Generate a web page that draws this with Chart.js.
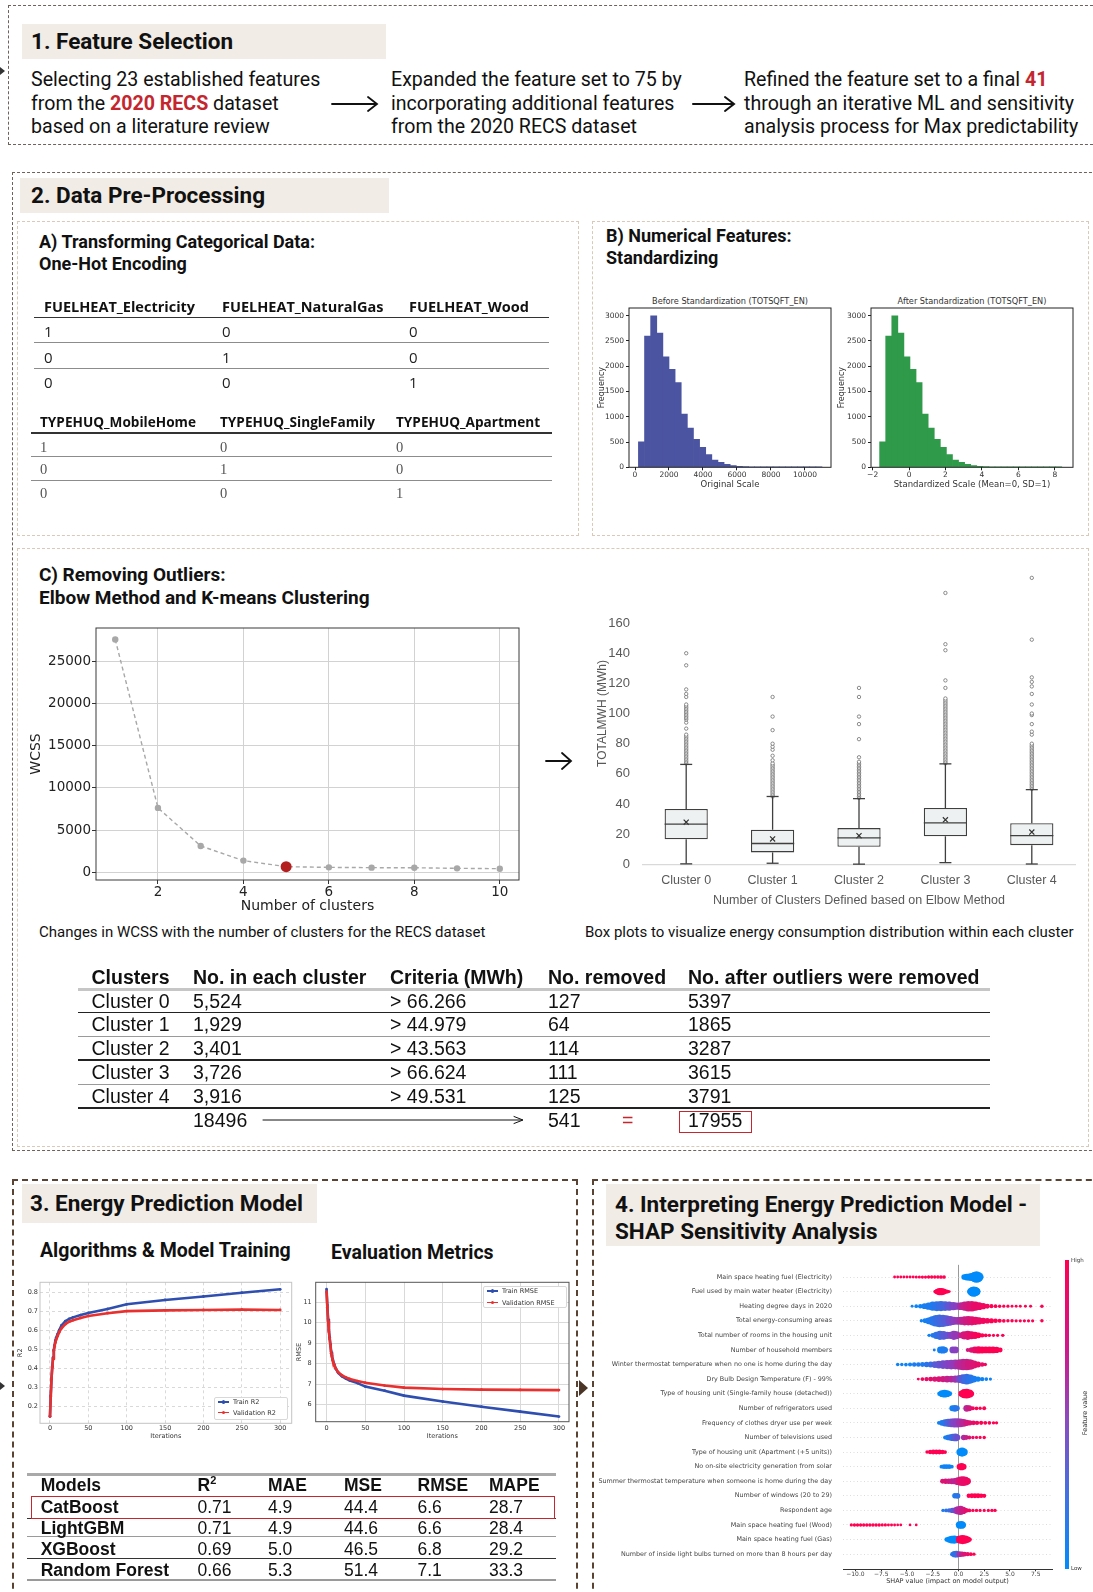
<!DOCTYPE html>
<html>
<head>
<meta charset="utf-8">
<title>RECS energy prediction workflow</title>
<script src="https://cdn.jsdelivr.net/npm/chart.js@4.4.1/dist/chart.umd.min.js"></script>
<style>
  html, body { margin: 0; padding: 0; background: #fff; }
  #page { position: relative; width: 1093px; height: 1592px; overflow: hidden; font-family: Roboto, "Noto Sans", sans-serif; color: #111; }
  #page div, #page canvas, #page svg { position: absolute; }
  .box { box-sizing: border-box; }
  .sec { border: 1.4px dashed #6f625a; }
  .sub { border: 1px dashed #d9c9b6; }
  .heavy { border: 2px dashed #5a4333; }
  .tag { background: #f1ece6; }
  .h1 { font-weight: 700; font-size: 22.5px; white-space: nowrap; }
  .h2 { font-weight: 700; font-size: 18px; white-space: nowrap; }
  .h3 { font-weight: 700; font-size: 19.5px; white-space: nowrap; }
  .body { font-size: 19.6px; line-height: 23.5px; white-space: nowrap; }
  .red { color: #c4262e; font-weight: 700; }
  .cap { font-size: 15px; white-space: nowrap; }
  .oh { font-family: "Open Sans", sans-serif; white-space: nowrap; }
  .oh-h { font-weight: 700; font-size: 14.5px; color: #111; }
  .oh-h2 { font-weight: 700; font-size: 13.6px; color: #111; }
  .oh-d { font-size: 15px; color: #222; }
  .oh-d2 { font-family: "Liberation Serif", serif; font-size: 14.5px; color: #555; }
  .tbl { font-family: "Liberation Sans", Arial, sans-serif; white-space: nowrap; }
  .ot { font-size: 19.5px; color: #111; }
  .ot-h { font-weight: 700; }
  .mt { font-size: 17.5px; color: #111; }
  .mt-b { font-weight: 700; }
  .mpl { font-family: "DejaVu Sans", sans-serif; white-space: nowrap; color: #333; }
  .lg { font-family: "DejaVu Sans", sans-serif; font-size: 6.5px; color: #333; white-space: nowrap; }
</style>
</head>
<body>
<div id="page">
  <!-- 1. Feature selection -->
  <div class="box sec" style="left:8px;top:5px;width:1100px;height:140px"></div>
  <div class="tag" style="left:22px;top:24px;width:364px;height:35px"></div>
  <div class="h1" style="left:31px;top:24px;line-height:35px">1. Feature Selection</div>
  <div class="body" style="left:31px;top:68px">Selecting 23 established features<br>from the <span class="red">2020 RECS</span> dataset<br>based on a literature review</div>
  <div class="body" style="left:391px;top:68px">Expanded the feature set to 75 by<br>incorporating additional features<br>from the 2020 RECS dataset</div>
  <div class="body" style="left:744px;top:68px">Refined the feature set to a final <span class="red">41</span><br>through an iterative ML and sensitivity<br>analysis process for Max predictability</div>

  <!-- 2. Data pre-processing -->
  <div class="box sec" style="left:12px;top:172px;width:1100px;height:979px"></div>
  <div class="tag" style="left:20px;top:178px;width:369px;height:35px"></div>
  <div class="h1" style="left:31px;top:178px;line-height:35px">2. Data Pre-Processing</div>
  <div class="box sub" style="left:17px;top:221px;width:562px;height:315px"></div>
  <div class="box sub" style="left:592px;top:221px;width:497px;height:315px"></div>
  <div class="box sub" style="left:17px;top:548px;width:1072px;height:599px"></div>
  <div class="h2" style="left:39px;top:231px;line-height:21.5px">A) Transforming Categorical Data:<br>One-Hot Encoding</div>
  <div class="h2" style="left:606px;top:225px;line-height:21.5px">B) Numerical Features:<br>Standardizing</div>
  <div class="h2" style="left:39px;top:563px;line-height:23.4px;font-size:19px">C) Removing Outliers:<br>Elbow Method and K-means Clustering</div>
  <div class="mpl" style="left:730px;top:296px;font-size:8.2px;line-height:10px;transform:translateX(-50%)">Before Standardization (TOTSQFT_EN)</div>
  <div class="mpl" style="left:972px;top:296px;font-size:8.2px;line-height:10px;transform:translateX(-50%)">After Standardization (TOTSQFT_EN)</div>
  <canvas id="histBefore" width="250" height="210" style="left:590px;top:288px"></canvas>
  <canvas id="histAfter" width="250" height="210" style="left:832px;top:288px"></canvas>
  <canvas id="elbow" width="505" height="305" style="left:25px;top:612px"></canvas>
  <canvas id="boxes" width="500" height="360" style="left:585px;top:550px"></canvas>
  <div class="cap" style="left:39px;top:923px;line-height:18px">Changes in WCSS with the number of clusters for the RECS dataset</div>
  <div class="cap" style="left:585px;top:923px;line-height:18px">Box plots to visualize energy consumption distribution within each cluster</div>

  <!-- 3. Energy prediction model -->
  <div class="box heavy" style="left:12px;top:1179px;width:566px;height:430px"></div>
  <div class="tag" style="left:22px;top:1184px;width:295px;height:39px"></div>
  <div class="h1" style="left:30px;top:1184px;line-height:39px">3. Energy Prediction Model</div>
  <div class="h3" style="left:40px;top:1240px;line-height:22px">Algorithms &amp; Model Training</div>
  <div class="h3" style="left:331px;top:1242px;line-height:22px">Evaluation Metrics</div>
  <canvas id="r2Chart" width="290" height="175" style="left:10px;top:1270px"></canvas>
  <canvas id="rmseChart" width="290" height="175" style="left:290px;top:1270px"></canvas>

  <!-- 4. SHAP -->
  <div class="box heavy" style="left:592px;top:1179px;width:520px;height:430px"></div>
  <div class="tag" style="left:606px;top:1184px;width:434px;height:62px"></div>
  <div class="h1" style="left:615px;top:1191px;line-height:27px">4. Interpreting Energy Prediction Model -<br>SHAP Sensitivity Analysis</div>
  <canvas id="shap" width="498" height="342" style="left:595px;top:1250px"></canvas>
  <div style="left:1065px;top:1260px;width:4px;height:309px;background:linear-gradient(to bottom,#ff0052,#d0168a 28%,#8a4cc0 52%,#3a74e6 78%,#008bfb)"></div>
  <div class="mpl" style="left:1071px;top:1257px;font-size:5.5px;line-height:7px">High</div>
  <div class="mpl" style="left:1071px;top:1565px;font-size:5.5px;line-height:7px">Low</div>
  <div class="mpl" style="left:1085px;top:1413px;font-size:6.5px;line-height:8px;transform:translate(-50%,-50%) rotate(-90deg)">Feature value</div>

  <svg id="ink" width="1093" height="1592" style="left:0;top:0" fill="none" stroke="#111" stroke-linecap="round">
    <path d="M332 104 H376 M368 97 L377 104 L368 111" stroke-width="1.8"/>
    <path d="M693 104 H733 M725 97 L734 104 L725 111" stroke-width="2"/>
    <path d="M546 761 H570 M562 753 L571 761 L562 769" stroke-width="1.8"/>
    <path d="M263 1120 H522 M514 1116.5 L523 1120 L514 1123.5" stroke-width="1"/>
    <path d="M0 67 L5 71 L0 75 Z" fill="#333" stroke="none"/>
    <path d="M0 1382 L5 1386 L0 1390 Z" fill="#333" stroke="none"/>
    <path d="M579 1380 L588 1388 L579 1396 Z" fill="#4a3426" stroke="none"/>
  </svg>
</div>

<script>
// ---------- data ----------
// one-hot encoding examples
const fuelCols = ['FUELHEAT_Electricity', 'FUELHEAT_NaturalGas', 'FUELHEAT_Wood'];
const houseCols = ['TYPEHUQ_MobileHome', 'TYPEHUQ_SingleFamily', 'TYPEHUQ_Apartment'];
const oneHotRows = [[1, 0, 0], [0, 1, 0], [0, 0, 1]];

// TOTSQFT_EN histogram (bin centers, counts)
const sqftBins = [380, 740, 1100, 1460, 1820, 2180, 2540, 2900, 3260, 3620, 3980, 4340, 4700, 5060, 5420,
  5780, 6140, 6500, 6860, 7220, 7580, 7940, 8300, 8660, 9020, 9380, 9740, 10100, 10460, 10820];
const sqftCounts = [505, 2594, 2994, 2653, 2186, 1937, 1674, 1050, 775, 551, 394, 250, 144, 98, 59,
  33, 20, 13, 8, 6, 5, 4, 3, 3, 2, 2, 1, 8, 3, 6];
const zBins = [-1.45, -1.117, -0.783, -0.45, -0.117, 0.217, 0.55, 0.883, 1.217, 1.55, 1.883, 2.217, 2.55, 2.883, 3.217,
  3.55, 3.883, 4.217, 4.55, 4.883, 5.217, 5.55, 5.883, 6.217, 6.55, 6.883, 7.217, 7.55, 7.883, 8.217];
const zCounts = sqftCounts; // standardizing does not change the counts
const freqTicks = [0, 500, 1000, 1500, 2000, 2500, 3000];
const sqftTicks = [0, 2000, 4000, 6000, 8000, 10000];
const zTicks = [-2, 0, 2, 4, 6, 8];

// elbow method
const kValues = [1, 2, 3, 4, 5, 6, 7, 8, 9, 10];
const wcss = [27600, 7640, 3130, 1390, 670, 590, 555, 545, 475, 435];
const elbowK = 5;
const kTicks = [2, 4, 6, 8, 10];
const wcssTicks = [0, 5000, 10000, 15000, 20000, 25000];

// box plots of TOTALMWH per cluster
const clusterNames = ['Cluster 0', 'Cluster 1', 'Cluster 2', 'Cluster 3', 'Cluster 4'];
const boxMin = [0.3, 0.7, 0.1, 1.1, 0.2];
const boxQ1 = [16.6, 7.9, 11.6, 18.6, 12.7];
const boxMedian = [26.6, 13.8, 17.5, 27.5, 19.0];
const boxQ3 = [36.7, 22.9, 24.0, 37.3, 27.3];
const boxMean = [27.9, 16.8, 19.0, 29.5, 21.4];
const criteriaMWh = [66.266, 44.979, 43.563, 66.624, 49.531];
const mwhTicks = [0, 20, 40, 60, 80, 100, 120, 140, 160];
const outliers = [
  [67, 68, 69, 70, 71, 72, 73, 74, 75, 76, 77, 78, 79, 80, 81, 82, 83, 84, 85, 86, 90, 94, 96, 97, 98, 99, 100,
    101, 102, 103, 104, 105, 106, 111, 113, 116, 132, 140],
  [45, 46, 47, 48, 49, 50, 51, 52, 53, 54, 55, 56, 57, 58, 59, 60, 61, 62, 63, 64, 65, 66, 67, 69, 72, 76, 78, 80,
    89, 98, 111],
  [44, 45, 46, 47, 48, 49, 50, 51, 52, 53, 54, 55, 56, 57, 58, 59, 60, 61, 62, 63, 64, 65, 66, 67, 68, 71, 83, 93,
    98, 111, 117],
  [67, 68, 69, 70, 71, 72, 73, 74, 75, 76, 77, 78, 79, 80, 81, 82, 83, 84, 85, 86, 87, 88, 89, 90, 91, 92, 93, 94,
    95, 96, 97, 98, 99, 100, 101, 102, 103, 104, 105, 106, 107, 108, 109, 110, 117, 122, 142, 146, 180],
  [50, 51, 52, 53, 54, 55, 56, 57, 58, 59, 60, 61, 62, 63, 64, 65, 66, 67, 68, 69, 70, 71, 72, 73, 74, 75, 76, 77,
    78, 79, 80, 86, 88, 93, 99, 100, 106, 113, 118, 121, 124, 149, 190]
];

// outlier removal table
const clusterSizes = [5524, 1929, 3401, 3726, 3916];
const removedCounts = [127, 64, 114, 111, 125];
const keptCounts = [5397, 1865, 3287, 3615, 3791];

// CatBoost training curves
const iters = [0, 1, 2, 3, 4, 5, 6, 7, 8, 10, 12, 15, 20, 25, 30, 40, 50, 75, 100, 150, 200, 250, 300];
const trainR2 = [0.145, 0.255, 0.345, 0.41, 0.455, 0.495, 0.52, 0.545, 0.56, 0.58, 0.6, 0.625, 0.648, 0.66, 0.668,
  0.68, 0.691, 0.712, 0.737, 0.76, 0.778, 0.798, 0.816];
const validR2 = [0.145, 0.25, 0.345, 0.405, 0.45, 0.49, 0.515, 0.535, 0.55, 0.57, 0.59, 0.61, 0.632, 0.645, 0.653,
  0.665, 0.675, 0.69, 0.701, 0.705, 0.707, 0.709, 0.707];
const trainRmse = [11.63, 10.85, 10.17, 9.64, 9.28, 8.94, 8.58, 8.38, 8.2, 7.95, 7.75, 7.55, 7.38, 7.27, 7.18,
  7.05, 6.88, 6.68, 6.44, 6.15, 5.9, 5.66, 5.42];
const validRmse = [11.5, 10.75, 10.07, 9.55, 9.2, 8.87, 8.5, 8.32, 8.15, 7.92, 7.75, 7.58, 7.43, 7.33, 7.25,
  7.15, 7.07, 6.93, 6.83, 6.76, 6.73, 6.72, 6.71];
const iterTicks = [0, 50, 100, 150, 200, 250, 300];
const r2Ticks = [0.2, 0.3, 0.4, 0.5, 0.6, 0.7, 0.8];
const rmseTicks = [6, 7, 8, 9, 10, 11];

// model comparison
const models = ['CatBoost', 'LightGBM', 'XGBoost', 'Random Forest'];
const r2Scores = [0.71, 0.71, 0.69, 0.66];
const maeScores = [4.9, 4.9, 5.0, 5.3];
const mseScores = [44.4, 44.6, 46.5, 51.4];
const rmseScores = [6.6, 6.6, 6.8, 7.1];
const mapeScores = [28.7, 28.4, 29.2, 33.3];

// SHAP summary: features and swarm samples [shap value, swarm density, feature value 0..1]
const shapFeatures = [
  'Main space heating fuel (Electricity)',
  'Fuel used by main water heater (Electricity)',
  'Heating degree days in 2020',
  'Total energy-consuming areas',
  'Total number of rooms in the housing unit',
  'Number of household members',
  'Winter thermostat temperature when no one is home during the day',
  'Dry Bulb Design Temperature (F) - 99%',
  'Type of housing unit (Single-family house (detached))',
  'Number of refrigerators used',
  'Frequency of clothes dryer use per week',
  'Number of televisions used',
  'Type of housing unit (Apartment (+5 units))',
  'No on-site electricity generation from solar',
  'Summer thermostat temperature when someone is home during the day',
  'Number of windows (20 to 29)',
  'Respondent age',
  'Main space heating fuel (Wood)',
  'Main space heating fuel (Gas)',
  'Number of inside light bulbs turned on more than 8 hours per day'
];
const shapTicks = [-10, -7.5, -5, -2.5, 0, 2.5, 5, 7.5];
const shapSwarm = [
  [[-6.2, .35, 1], [-5.9, .35, 1], [-5.6, .35, 1], [-5.3, .35, 1], [-5.0, .4, 1], [-4.7, .4, 1], [-4.4, .4, 1],
   [-4.1, .45, 1], [-3.8, .45, 1], [-3.5, .5, 1], [-3.2, .5, 1], [-2.9, .55, 1], [-2.6, .6, 1], [-2.3, .6, 1],
   [-2.0, .65, 1], [-1.7, .7, 1], [-1.4, .7, 1],
   [0.55, 1.5, 0], [0.8, 2, 0], [1.05, 2.2, 0], [1.3, 2.5, 0], [1.55, 3.3, 0], [1.75, 4, 0], [1.95, 3.2, 0], [2.15, 1.5, 0]],
  [[-2.25, .8, 1], [-2.05, 1.6, 1], [-1.85, 2.2, 1], [-1.65, 2.2, 1], [-1.45, 1.8, 1], [-1.25, 1.2, 1], [-1.05, .7, 1],
   [-0.9, .4, 1], [1.15, 1.8, 0], [1.3, 2.8, 0], [1.45, 3.5, 0], [1.6, 3.3, 0], [1.75, 2.4, 0], [1.9, 1.2, 0]],
  [[-4.5, .4, .05], [-4.1, .7, .05], [-3.7, 1.1, .05], [-3.3, 1.6, .08], [-2.9, 2.2, .1], [-2.5, 3, .1], [-2.1, 3.3, .15],
   [-1.7, 3.4, .2], [-1.3, 3.2, .25], [-0.9, 3, .35], [-0.5, 2.6, .45], [-0.15, 2.2, .5], [0.25, 2.4, .65],
   [0.6, 3, .75], [0.95, 3.6, .8], [1.3, 3.6, .85], [1.65, 3, .9], [2.0, 2.4, .9], [2.4, 1.8, .95], [2.8, 1.2, .95],
   [3.2, .9, 1], [3.6, .7, 1], [4.0, .6, 1], [4.4, .5, 1], [4.8, .5, 1], [5.2, .4, 1], [5.6, .4, 1], [6.0, .4, 1],
   [6.5, .4, 1], [7.0, .4, 1], [8.1, .6, 1]],
  [[-3.6, .6, .05], [-3.25, 1.2, .05], [-2.9, 2, .1], [-2.55, 3, .1], [-2.2, 4, .15], [-1.85, 4.5, .2], [-1.5, 4.3, .25],
   [-1.15, 3.8, .3], [-0.8, 3.2, .4], [-0.45, 2.6, .5], [-0.1, 2.4, .55], [0.25, 2.6, .65], [0.6, 3, .75],
   [0.95, 3.1, .8], [1.3, 3, .85], [1.65, 2.6, .9], [2.0, 2.2, .9], [2.4, 1.8, .95], [2.8, 1.5, .95], [3.2, 1.3, 1],
   [3.6, 1.1, 1], [4.0, .9, 1], [4.4, .7, 1], [4.8, .6, 1], [5.2, .6, 1], [5.6, .5, 1], [6.0, .5, 1], [6.4, .5, 1],
   [6.8, .5, 1], [7.2, .5, 1], [8.1, .6, 1]],
  [[-2.85, .6, .05], [-2.5, 1.2, .1], [-2.15, 2.2, .15], [-1.8, 3, .2], [-1.45, 2.8, .3], [-1.1, 2.2, .35],
   [-0.75, 2.2, .45], [-0.45, 3, .5], [-0.2, 2.5, .55], [0.2, 1.5, .7], [0.55, 2.6, .8], [0.9, 3, .85], [1.25, 2.5, .9],
   [1.6, 2.2, .95], [1.95, 1.5, 1], [2.3, 1, 1], [2.65, .8, 1], [3.0, .6, 1], [3.4, .5, 1], [3.8, .5, 1], [4.3, .6, 1]],
  [[-2.35, .4, .1], [-1.75, 2, .05], [-1.5, 2.2, .1], [-1.3, 1.6, .1], [-0.55, 2, .45], [-0.3, 2, .5], [0.9, .8, .8],
   [1.25, 1.4, .85], [1.6, 2, .9], [1.95, 2.2, .95], [2.3, 2.1, 1], [2.65, 2, 1], [3.0, 2, 1], [3.35, 2, 1],
   [3.7, 1.8, 1], [4.05, 1.2, 1]],
  [[-5.9, .6, .05], [-5.5, .6, .05], [-5.1, .7, .05], [-4.7, .9, .05], [-4.3, 1, .1], [-3.9, 1.1, .1], [-3.5, 1.2, .1],
   [-3.1, 1.4, .15], [-2.7, 1.6, .2], [-2.3, 2, .3], [-1.9, 2.4, .35], [-1.5, 2.8, .4], [-1.1, 3, .45], [-0.7, 3.2, .5],
   [-0.3, 3.3, .55], [0.1, 3.6, .65], [0.45, 4, .7], [0.8, 4, .75], [1.15, 3.5, .8], [1.5, 2.5, .85], [1.9, 1.6, .9],
   [2.3, 1, .9], [2.6, .6, .95]],
  [[-3.9, .4, .95], [-3.5, .7, .95], [-3.1, 1, .9], [-2.7, 1.2, .9], [-2.3, 1.4, .85], [-1.9, 1.6, .85], [-1.5, 1.8, .8],
   [-1.1, 2, .75], [-0.7, 2, .7], [-0.3, 2.2, .6], [0.1, 2.5, .45], [0.45, 3.2, .3], [0.8, 3.6, .2], [1.15, 3, .15],
   [1.5, 2, .1], [1.9, 1.4, .05], [2.3, 1, .05], [2.7, .7, .05], [3.1, .5, .05]],
  [[-1.85, 1, 0], [-1.6, 2, 0], [-1.35, 2.4, 0], [-1.1, 2, 0], [-0.85, 1.2, 0],
   [0.3, 1.8, 1], [0.55, 3, 1], [0.8, 3.2, 1], [1.05, 2.6, 1], [1.25, 1.5, 1]],
  [[-0.6, 1.6, .05], [-0.35, 2, .1], [-0.15, 1.5, .15], [0.8, 2, .7], [1.05, 1.6, .8], [1.4, .8, .95], [1.75, .7, 1],
   [2.1, .6, 1], [2.5, .8, 1]],
  [[-1.9, .8, .05], [-1.6, 1.6, .1], [-1.3, 2.2, .15], [-1.0, 2.6, .25], [-0.7, 2.8, .35], [-0.4, 3, .45], [-0.1, 3, .5],
   [0.2, 2.8, .6], [0.5, 2.4, .7], [0.8, 1.8, .8], [1.1, 1.4, .85], [1.45, 1.2, .9], [1.8, 1, .95], [2.2, .9, 1],
   [2.6, .8, 1], [3.0, .7, 1], [3.4, .6, 1], [3.7, .5, 1]],
  [[-1.3, .8, .05], [-1.05, 1.4, .1], [-0.8, 1.8, .15], [-0.55, 2.2, .2], [-0.3, 2.4, .3], [-0.1, 1.6, .4],
   [0.5, 1.4, .65], [0.75, 1.2, .75], [1.05, .8, .85], [1.4, .6, .9], [1.75, .5, .95], [2.1, .5, 1], [2.5, .6, 1]],
  [[-3.05, .6, 1], [-2.75, 1, 1], [-2.45, 1.2, 1], [-2.15, 1.2, 1], [-1.85, 1.2, 1], [-1.55, 1, 1], [-1.3, .7, 1],
   [0.15, 2.2, 0], [0.35, 3, 0], [0.55, 2.2, 0]],
  [[-1.65, .8, .05], [-1.4, 1.2, .05], [-1.15, 1.2, .05], [-0.9, 1.1, .05], [-0.65, .8, .05],
   [0.1, 1.6, 1], [0.3, 2.2, 1], [0.5, 1.6, 1]],
  [[-1.55, 1.2, .85], [-1.25, 1.4, .85], [-0.95, 1.4, .8], [-0.65, 1.6, .75], [-0.35, 1.8, .7], [-0.05, 2.4, .75],
   [0.2, 3, .85], [0.45, 3.2, .9], [0.7, 2.8, .9], [0.9, 1.8, .95]],
  [[-0.35, 1.4, .1], [-0.1, 1.6, .15], [1.0, 1, 1], [1.3, 1.2, 1], [1.6, 1.2, 1], [1.9, 1.2, 1], [2.2, 1.1, 1],
   [2.5, .9, 1]],
  [[-1.5, .6, .1], [-1.2, .8, .15], [-0.9, 1, .2], [-0.6, 1.4, .3], [-0.3, 1.8, .4], [-0.05, 2.6, .6], [0.2, 3, .7],
   [0.45, 2.2, .8], [0.75, 1.2, .9], [1.05, .8, .95], [1.4, .6, 1], [1.75, .6, 1], [2.1, .5, 1], [2.5, .5, 1],
   [2.9, .5, 1], [3.25, .6, 1], [3.55, .6, 1]],
  [[-10.4, .5, 1], [-10.1, .6, 1], [-9.8, .6, 1], [-9.5, .6, 1], [-9.2, .6, 1], [-8.9, .6, 1], [-8.6, .6, 1],
   [-8.3, .6, 1], [-8.0, .6, 1], [-7.7, .6, 1], [-7.4, .5, 1], [-7.1, .5, 1], [-6.8, .4, 1], [-6.5, .4, 1],
   [-6.2, .35, 1], [-5.9, .3, 1], [-5.6, .3, 1], [-4.7, .3, 1], [-4.1, .3, 1],
   [0.1, 2.2, 0], [0.3, 2.4, 0], [0.45, 1.6, 0]],
  [[-1.15, 1, 0], [-0.9, 1.8, 0], [-0.65, 2.4, 0], [-0.4, 2.6, 0], [-0.15, 2.2, 0],
   [0.15, 2.6, 1], [0.4, 3, 1], [0.65, 2.6, 1], [0.9, 1.8, 1], [1.1, .9, 1]],
  [[-0.6, 1, .1], [-0.4, 1.8, .15], [-0.2, 2, .2], [0.1, 1.6, .6], [0.35, 1.4, .75], [0.6, 1.2, .85], [0.9, .9, .9],
   [1.2, .7, 1], [1.5, .6, 1]]
];

// ---------- page text built from the tables ----------
const page = document.getElementById('page');
function txt(cls, x, yc, lh, html, style) {
  const d = document.createElement('div');
  d.className = cls;
  d.style.left = x + 'px';
  d.style.top = (yc - lh / 2) + 'px';
  d.style.lineHeight = lh + 'px';
  d.innerHTML = html;
  if (style) Object.assign(d.style, style);
  page.appendChild(d);
  return d;
}
function rule(x0, x1, y, w, color) {
  const d = document.createElement('div');
  Object.assign(d.style, { left: x0 + 'px', top: (y - w / 2) + 'px', width: (x1 - x0) + 'px', height: w + 'px', background: color });
  page.appendChild(d);
}

// one-hot tables
rule(34, 549, 317.7, 1.6, '#333');
rule(34, 549, 342.7, 1.2, '#8c8c8c');
rule(34, 549, 368.3, 1.2, '#8c8c8c');
fuelCols.forEach((c, j) => txt('oh oh-h', [44, 222, 409][j], 306.7, 18, c));
oneHotRows.forEach((r, i) => r.forEach((v, j) => txt('oh oh-d', [44, 222, 409][j], [331, 356.7, 382.3][i], 18, v)));

rule(31, 552, 433, 1.6, '#333');
rule(31, 552, 456.7, 1.2, '#8c8c8c');
rule(31, 552, 480.7, 1.2, '#8c8c8c');
houseCols.forEach((c, j) => txt('oh oh-h2', [40, 220, 396][j], 422.3, 18, c));
oneHotRows.forEach((r, i) => r.forEach((v, j) => txt('oh-d2', [40, 220, 396][j], [446.7, 469.3, 492.7][i], 18, v, { whiteSpace: 'nowrap' })));

// outlier removal table
const otX = [91.5, 193, 390, 548, 688];
const otRows = [1000.7, 1024.3, 1048.3, 1072.3, 1096];
['Clusters', 'No. in each cluster', 'Criteria (MWh)', 'No. removed', 'No. after outliers were removed']
  .forEach((h, j) => txt('tbl ot ot-h', otX[j], 976.7, 22, h));
rule(78, 990, 989.3, 3, '#c6c6c6');
[[1012.3, 1.6, '#222'], [1036.7, 1.3, '#9a9a9a'], [1060, 1.6, '#222'], [1084.3, 1.3, '#9a9a9a'], [1108.3, 2.2, '#222']]
  .forEach(([y, w, c]) => rule(78, 990, y, w, c));
clusterNames.forEach((name, i) => {
  const cells = [name, clusterSizes[i].toLocaleString('en-US'), '&gt; ' + criteriaMWh[i].toFixed(3), removedCounts[i], keptCounts[i]];
  cells.forEach((c, j) => txt('tbl ot', otX[j], otRows[i], 22, c));
});
const sum = a => a.reduce((s, v) => s + v, 0);
txt('tbl ot', 193, 1120, 22, sum(clusterSizes));
txt('tbl ot', 548, 1120, 22, sum(removedCounts));
txt('tbl ot', 622, 1120, 22, '=', { color: '#c8262e' });
txt('tbl ot', 688, 1120, 22, sum(keptCounts));
page.appendChild(Object.assign(document.createElement('div'), { style: 'left:679px;top:1110.7px;width:73px;height:22.6px;border:1.5px solid #c8262e;box-sizing:border-box' }));

// model comparison table
const mtX = [40.7, 197.5, 268, 344, 417.5, 489];
const mtRows = [1506.7, 1528.3, 1549, 1570];
['Models', 'R<sup style="font-size:11px;line-height:0">2</sup>', 'MAE', 'MSE', 'RMSE', 'MAPE']
  .forEach((h, j) => txt('tbl mt mt-b', mtX[j], 1485, 20, h));
rule(27, 556, 1474.3, 2.5, '#a9a9a9');
rule(27, 556, 1518.7, 1.5, '#333');
rule(27, 556, 1536.7, 1.3, '#9a9a9a');
rule(27, 556, 1558.3, 1.5, '#333');
rule(27, 556, 1580, 2.5, '#9a9a9a');
models.forEach((m, i) => {
  const cells = [m, r2Scores[i].toFixed(2), maeScores[i].toFixed(1), mseScores[i].toFixed(1), rmseScores[i].toFixed(1), mapeScores[i].toFixed(1)];
  cells.forEach((c, j) => txt('tbl mt' + (j === 0 ? ' mt-b' : ''), mtX[j], mtRows[i], 20, c));
});
page.appendChild(Object.assign(document.createElement('div'), { style: 'left:30.7px;top:1496px;width:524px;height:23px;border:1.5px solid #c8262e;box-sizing:border-box' }));

// legends of the training curves
function legend(x, y, w, h, entries) {
  const box = document.createElement('div');
  Object.assign(box.style, { left: x + 'px', top: y + 'px', width: w + 'px', height: h + 'px', border: '0.8px solid #d8d8d8', background: '#fff', borderRadius: '2px', boxSizing: 'border-box' });
  page.appendChild(box);
  entries.forEach(([label, color, yc]) => {
    rule(x + 4, x + 15, yc, 1.4, color);
    const dot = document.createElement('div');
    Object.assign(dot.style, { left: (x + 8) + 'px', top: (yc - 1.6) + 'px', width: '3.2px', height: '3.2px', borderRadius: '50%', background: color });
    page.appendChild(dot);
    txt('lg', x + 19, yc, 8, label);
  });
}
legend(214, 1397, 74, 23, [['Train R2', '#2f4fb0', 1402], ['Validation R2', '#e8302f', 1412.5]]);
legend(483, 1286, 84, 22, [['Train RMSE', '#2f4fb0', 1291], ['Validation RMSE', '#e8302f', 1302.5]]);

// ---------- charts ----------
Chart.defaults.font.family = '"DejaVu Sans", sans-serif';
Chart.defaults.color = '#333';
Chart.defaults.animation = false;
Chart.defaults.responsive = false;
Chart.defaults.events = [];
Chart.defaults.plugins.legend.display = false;
Chart.defaults.plugins.tooltip.enabled = false;

// outline around the plotting area (matplotlib style axes box)
Chart.register({
  id: 'frame',
  afterDatasetsDraw(chart, args, opts) {
    if (!opts.color) return;
    const { ctx, chartArea: a } = chart;
    ctx.save();
    ctx.strokeStyle = opts.color;
    ctx.lineWidth = opts.width || 1;
    ctx.strokeRect(a.left, a.top, a.right - a.left, a.bottom - a.top);
    ctx.restore();
  }
});

// place ticks exactly at the listed values
const ticksAt = vals => s => { s.ticks = vals.map(v => ({ value: v })); };
const minus = v => (v < 0 ? '\u2212' : '') + Math.abs(v);

function histogram(id, bins, counts, color, xMin, xMax, xTicks, xTitle, yTitlePad) {
  new Chart(document.getElementById(id), {
    type: 'bar',
    data: { datasets: [{ data: bins.map((b, i) => ({ x: b, y: counts[i] })), backgroundColor: color, borderWidth: 0, barPercentage: 1, categoryPercentage: 1 }] },
    options: {
      layout: { padding: { top: 20, right: 9 } },
      plugins: { frame: { color: '#222' } },
      scales: {
        x: {
          type: 'linear', min: xMin, max: xMax, offset: false,
          afterFit: s => { s.height = 30.7; },
          afterBuildTicks: ticksAt(xTicks),
          grid: { offset: false, drawOnChartArea: false, tickLength: 3, tickColor: '#222' },
          border: { display: false },
          ticks: { maxRotation: 0, autoSkip: false, padding: 0, font: { size: 7.5 }, color: '#333', callback: minus },
          title: { display: true, text: xTitle, font: { size: 8.5 }, color: '#333', padding: { top: 0, bottom: 8.5 } }
        },
        y: {
          min: 0, max: 3150,
          afterFit: s => { s.width = 39; },
          afterBuildTicks: ticksAt(freqTicks),
          grid: { drawOnChartArea: false, tickLength: 3, tickColor: '#222' },
          border: { display: false },
          ticks: { padding: 2, font: { size: 7.5 }, color: '#333', callback: v => String(v) },
          title: { display: true, text: 'Frequency', font: { size: 8 }, color: '#333', padding: { top: yTitlePad, bottom: 0 } }
        }
      }
    }
  });
}
histogram('histBefore', sqftBins, sqftCounts, '#4b54a1', -353, 11530, sqftTicks, 'Original Scale', 6.9);
histogram('histAfter', zBins, zCounts, '#2f9a4a', -2.09, 9.0, zTicks, 'Standardized Scale (Mean=0, SD=1)', 4.9);

// elbow curve
new Chart(document.getElementById('elbow'), {
  type: 'line',
  data: {
    datasets: [{
      data: kValues.map((k, i) => ({ x: k, y: wcss[i] })),
      borderColor: '#a8a8a8', borderWidth: 1.4, borderDash: [4, 3],
      pointRadius: c => kValues[c.dataIndex] === elbowK ? 5.5 : 3.2,
      pointBackgroundColor: c => kValues[c.dataIndex] === elbowK ? '#b3201f' : '#a8a8a8',
      pointBorderWidth: 0
    }]
  },
  options: {
    layout: { padding: { top: 16, right: 11 } },
    plugins: { frame: { color: '#3a3a3a' } },
    scales: {
      x: {
        type: 'linear', min: 0.55, max: 10.45,
        afterFit: s => { s.height = 37; },
        afterBuildTicks: ticksAt(kTicks),
        grid: { color: '#d2d2d2', tickColor: '#333', tickLength: 4 },
        border: { display: false },
        ticks: { padding: 0, maxRotation: 0, font: { size: 13.5 }, color: '#222', callback: v => String(v) },
        title: { display: true, text: 'Number of clusters', font: { size: 14 }, color: '#222', padding: { top: 0, bottom: 1.9 } }
      },
      y: {
        min: -907, max: 28957,
        afterFit: s => { s.width = 71; },
        afterBuildTicks: ticksAt(wcssTicks),
        grid: { color: '#d2d2d2', tickColor: '#333', tickLength: 4 },
        border: { display: false },
        ticks: { padding: 1, font: { size: 13.5 }, color: '#222', callback: v => String(v) },
        title: { display: true, text: 'WCSS', font: { size: 14 }, color: '#222', padding: { top: 3.3, bottom: 0 } }
      }
    }
  }
});

// box plots: boxes are floating bars, whiskers and medians come from the same scales
const boxParts = {
  id: 'boxParts',
  afterDatasetsDraw(chart) {
    const { ctx, scales: { x, y } } = chart;
    const bars = chart.getDatasetMeta(0).data;
    ctx.save();
    ctx.strokeStyle = '#3f3f3f';
    ctx.lineWidth = 1.3;
    const seg = (x0, y0, x1, y1) => { ctx.beginPath(); ctx.moveTo(x0, y0); ctx.lineTo(x1, y1); ctx.stroke(); };
    clusterNames.forEach((name, i) => {
      const cx = x.getPixelForValue(i);
      const half = bars[i].width / 2;
      const top = y.getPixelForValue(criteriaMWh[i]);
      const bottom = y.getPixelForValue(boxMin[i]);
      seg(cx, y.getPixelForValue(boxQ3[i]), cx, top);
      seg(cx, y.getPixelForValue(boxQ1[i]), cx, bottom);
      seg(cx - 6, top, cx + 6, top);
      seg(cx - 6, bottom, cx + 6, bottom);
      seg(cx - half, y.getPixelForValue(boxMedian[i]), cx + half, y.getPixelForValue(boxMedian[i]));
    });
    ctx.restore();
  }
};
const calibriLike = '"Liberation Sans", Arial, sans-serif';
new Chart(document.getElementById('boxes'), {
  type: 'bar',
  data: {
    labels: clusterNames,
    datasets: [
      { data: boxQ1.map((q, i) => [q, boxQ3[i]]), backgroundColor: '#eef1f1', borderColor: '#3f3f3f', borderWidth: 1.3, borderSkipped: false, barPercentage: 0.5, categoryPercentage: 1, order: 3 },
      { type: 'line', showLine: false, data: outliers.flatMap((vals, i) => vals.map(v => ({ x: clusterNames[i], y: v }))),
        pointRadius: 1.7, pointBackgroundColor: '#fff', pointBorderColor: '#707070', pointBorderWidth: 0.8, order: 2 },
      { type: 'line', showLine: false, data: boxMean.map((m, i) => ({ x: clusterNames[i], y: m })),
        pointStyle: 'crossRot', pointRadius: 3.6, pointBorderColor: '#333', pointBorderWidth: 1.2, order: 1 }
    ]
  },
  plugins: [boxParts],
  options: {
    layout: { padding: { top: 0, right: 10 } },
    scales: {
      x: {
        afterFit: s => { s.height = 45.7; },
        grid: { display: false },
        border: { display: true, color: '#d9d9d9', width: 1.2 },
        ticks: { padding: 1, font: { family: calibriLike, size: 12.5 }, color: '#595959' },
        title: { display: true, text: 'Number of Clusters Defined based on Elbow Method', font: { family: calibriLike, size: 12.5 }, color: '#595959', padding: { top: 0, bottom: 1.8 } }
      },
      y: {
        min: 0, max: 200,
        afterFit: s => { s.width = 58; },
        afterBuildTicks: ticksAt(mwhTicks),
        grid: { display: false },
        border: { display: false },
        ticks: { padding: 5, font: { family: calibriLike, size: 13 }, color: '#595959' },
        title: { display: true, text: 'TOTALMWH (MWh)', font: { family: calibriLike, size: 12 }, color: '#595959', padding: { top: 10.8, bottom: 0 } }
      }
    }
  }
});

// training curves
function curveChart(id, train, valid, yMin, yMax, yTicks, yTitle, xMin, xMax, box, dashed, frameColor) {
  const line = (vals, color, order) => ({
    data: iters.map((it, i) => ({ x: it, y: vals[i] })),
    borderColor: color, backgroundColor: color, borderWidth: 2.6,
    pointRadius: 1.4, pointBorderWidth: 0, order
  });
  new Chart(document.getElementById(id), {
    type: 'line',
    data: { datasets: [line(train, '#2f4fb0', 2), line(valid, '#e8302f', 1)] },
    options: {
      layout: { padding: { top: 12.3, right: box.right } },
      plugins: { frame: { color: frameColor, width: 1 } },
      scales: {
        x: {
          type: 'linear', min: xMin, max: xMax,
          afterFit: s => { s.height = box.xh; },
          afterBuildTicks: ticksAt(iterTicks),
          grid: { color: '#d9d9d9', drawTicks: false },
          border: { display: false, dash: dashed ? [3, 3] : [] },
          ticks: { padding: box.xpad, maxRotation: 0, font: { size: 6.5 }, color: '#333' },
          title: { display: true, text: 'Iterations', font: { size: 6.5 }, color: '#333', padding: { top: 0, bottom: 4.4 } }
        },
        y: {
          min: yMin, max: yMax,
          afterFit: s => { s.width = box.yw; },
          afterBuildTicks: ticksAt(yTicks),
          grid: { color: '#d9d9d9', drawTicks: false },
          border: { display: false, dash: dashed ? [3, 3] : [] },
          ticks: { padding: box.ypad, font: { size: 6.5 }, color: '#333', callback: v => box.decimals ? v.toFixed(box.decimals) : String(v) },
          title: { display: true, text: yTitle, font: { size: 6.5 }, color: '#333', padding: { top: box.ytp, bottom: 0 } }
        }
      }
    }
  });
}
curveChart('r2Chart', trainR2, validR2, 0.109, 0.853, r2Ticks, 'R2', -13, 315,
  { right: 8.3, xh: 21.7, yw: 30, decimals: 1, xpad: 0.8, ypad: 2, ytp: 6.1 }, true, '#c4c4c4');
curveChart('rmseChart', trainRmse, validRmse, 5.17, 11.96, rmseTicks, 'RMSE', -14, 313,
  { right: 11, xh: 23.3, yw: 25.7, decimals: 0, xpad: 2.7, ypad: 4, ytp: 5.1 }, false, '#555');

// SHAP beeswarm, each sample as a bubble coloured by feature value
const lowC = [0, 139, 251], midC = [138, 62, 192], highC = [255, 0, 82];
function featureColor(v) {
  const [a, b, t] = v < 0.5 ? [lowC, midC, v / 0.5] : [midC, highC, (v - 0.5) / 0.5];
  const c = a.map((k, i) => Math.round(k + (b[i] - k) * t));
  return `rgb(${c[0]},${c[1]},${c[2]})`;
}
new Chart(document.getElementById('shap'), {
  type: 'bubble',
  data: {
    datasets: [{
      data: shapSwarm.flatMap((row, i) => row.map(([s, d, v]) => ({ x: s, y: i, r: 1 + 1.2 * d, v }))),
      backgroundColor: c => featureColor(c.raw.v),
      borderWidth: 0
    }]
  },
  options: {
    layout: { padding: { top: 12, right: 41 } },
    scales: {
      x: {
        type: 'linear', min: -11.21, max: 9.08,
        afterFit: s => { s.height = 22.7; },
        afterBuildTicks: ticksAt(shapTicks),
        grid: { color: c => c.tick && c.tick.value === 0 ? '#9a9a9a' : 'rgba(0,0,0,0)', tickColor: '#333', tickLength: 2 },
        border: { display: true, color: '#333', width: 1 },
        ticks: { padding: 0, maxRotation: 0, autoSkip: false, font: { size: 6 }, color: '#444',
          callback: v => (v < 0 ? '\u2212' : '') + Math.abs(v).toFixed(1) },
        title: { display: true, text: 'SHAP value (impact on model output)', font: { size: 6.5 }, color: '#333', padding: { top: 0, bottom: 6.4 } }
      },
      y: {
        type: 'linear', reverse: true, min: -0.836, max: 20.04,
        afterFit: s => { s.width = 248; },
        afterBuildTicks: s => { s.ticks = shapFeatures.map((_, i) => ({ value: i })); },
        grid: { color: '#d4d4d4', drawTicks: false, lineWidth: 0.8 },
        border: { display: false, dash: [1, 2.5] },
        ticks: { autoSkip: false, padding: 11, font: { size: 6.4 }, color: '#444', callback: (v, i) => shapFeatures[i] }
      }
    }
  }
});
</script>
</body>
</html>
